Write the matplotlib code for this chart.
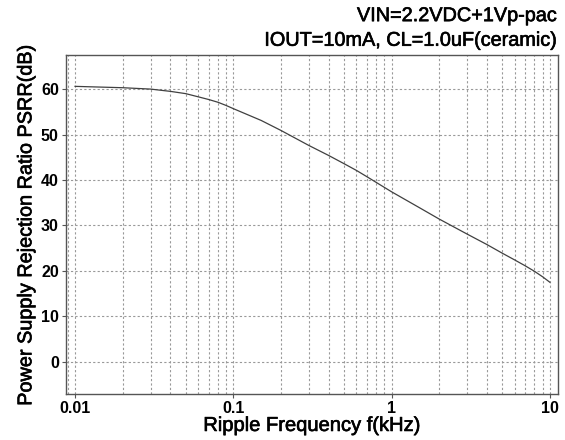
import matplotlib
matplotlib.use("Agg")
import matplotlib.pyplot as plt
import matplotlib.patheffects as pe
from matplotlib.ticker import FixedLocator, NullFormatter, NullLocator

plt.rcParams['font.family'] = ['Liberation Sans', 'DejaVu Sans']

freq_khz = [0.01, 0.02, 0.03, 0.04, 0.05, 0.06, 0.07, 0.08, 0.09, 0.1,
            0.15, 0.2, 0.3, 0.4, 0.5, 0.6, 0.7, 1, 1.5, 2, 3, 4, 5, 6, 7,
            8, 9, 10]
psrr_db = [60.6, 60.3, 60.0, 59.5, 59.0, 58.3, 57.7, 57.1, 56.4, 55.7,
           53.1, 50.9, 47.6, 45.4, 43.6, 42.1, 40.7, 37.4, 33.9, 31.4,
           28.1, 25.8, 23.9, 22.4, 21.1, 19.9, 18.7, 17.5]

x_ticks = [0.01, 0.1, 1, 10]
x_tick_labels = ['0.01', '0.1', '1', '10']
y_ticks = [0, 10, 20, 30, 40, 50, 60]
title_lines = ['VIN=2.2VDC+1Vp-pac', 'IOUT=10mA, CL=1.0uF(ceramic)']
x_label = 'Ripple Frequency f(kHz)'
y_label = 'Power Supply Rejection Ratio PSRR(dB)'

minor_x = [m * 10.0 ** e for e in range(-3, 2) for m in range(2, 10)]

fig = plt.figure(figsize=(5.65, 4.4), dpi=100)
ax = fig.add_axes([0.1163, 0.1045, 0.988 - 0.1163, 0.875 - 0.1045])

ax.plot(freq_khz, psrr_db, color='#404040', linewidth=0.9)
ax.set_xscale('log')
ax.set_xlim(0.00873, 11.3)
ax.set_ylim(-7.1, 67.5)

ax.xaxis.set_major_locator(FixedLocator(x_ticks))
ax.set_xticklabels(x_tick_labels)
ax.xaxis.set_minor_locator(FixedLocator(minor_x))
ax.xaxis.set_minor_formatter(NullFormatter())
ax.yaxis.set_major_locator(FixedLocator(y_ticks))
ax.yaxis.set_minor_locator(NullLocator())

grid_kw = dict(color='#999999', linestyle=(0, (2, 2)), linewidth=0.8)
ax.grid(True, which='major', axis='both', **grid_kw)
ax.grid(True, which='minor', axis='x', **grid_kw)

for s in ax.spines.values():
    s.set_color('#555555')
    s.set_linewidth(1.0)

ax.tick_params(axis='both', which='major', direction='out', length=3,
               width=0.8, color='#555555', labelsize=11.5, pad=2)
ax.tick_params(axis='x', which='minor', length=0)
for lbl in ax.get_xticklabels() + ax.get_yticklabels():
    lbl.set_fontweight('bold')

heavy = [pe.withStroke(linewidth=0.45, foreground='black')]
ax.set_xlabel(x_label, fontsize=14.5, labelpad=0, path_effects=heavy)
ax.set_ylabel(y_label, fontsize=14.3, labelpad=4, path_effects=heavy)

fig.text(0.986, 0.952, title_lines[0], ha='right', va='baseline',
         fontsize=14.3, path_effects=heavy)
fig.text(0.986, 0.896, title_lines[1], ha='right', va='baseline',
         fontsize=14.3, path_effects=heavy)

fig.savefig('out.png', dpi=100)
